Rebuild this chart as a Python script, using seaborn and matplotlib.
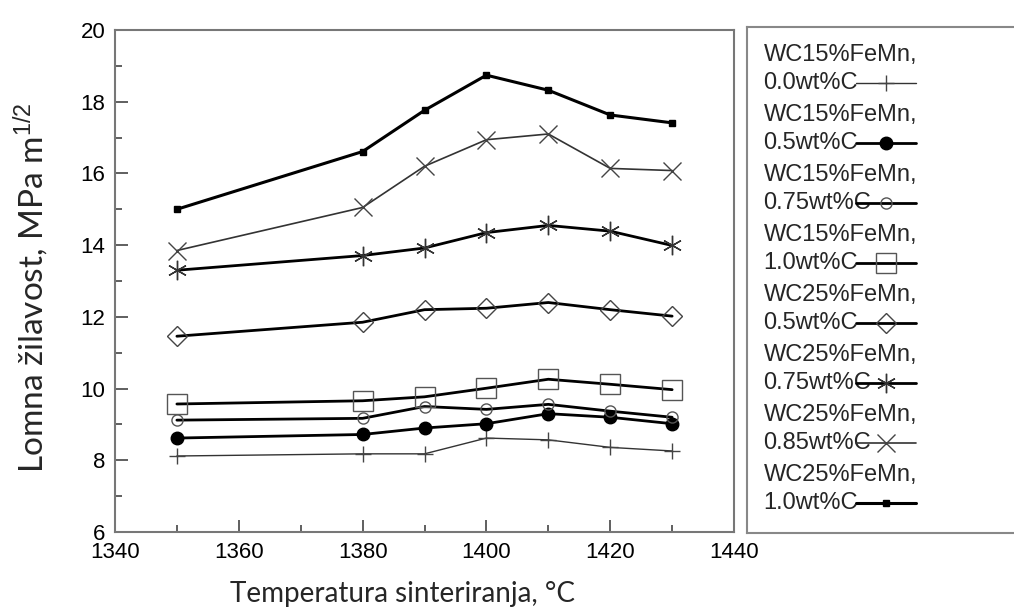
import matplotlib
matplotlib.use("Agg")
import matplotlib.pyplot as plt
from matplotlib.legend_handler import HandlerLine2D
from matplotlib.transforms import Affine2D
from matplotlib.ticker import MultipleLocator
import pandas as pd
import seaborn as sns

# sintering temperature, deg C
temps = [1350, 1380, 1390, 1400, 1410, 1420, 1430]

# fracture toughness, MPa m^1/2
wc15_c00 = [8.12, 8.18, 8.18, 8.62, 8.57, 8.36, 8.26]
wc15_c05 = [8.62, 8.72, 8.9, 9.02, 9.3, 9.2, 9.02]
wc15_c075 = [9.12, 9.17, 9.5, 9.42, 9.56, 9.37, 9.2]
wc15_c10 = [9.57, 9.66, 9.77, 10.01, 10.26, 10.12, 9.97]
wc25_c05 = [11.46, 11.85, 12.2, 12.24, 12.4, 12.2, 12.02]
wc25_c075 = [13.3, 13.71, 13.92, 14.35, 14.55, 14.39, 13.99]
wc25_c085 = [13.85, 15.05, 16.2, 16.94, 17.1, 16.14, 16.08]
wc25_c10 = [15.0, 16.61, 17.76, 18.74, 18.32, 17.63, 17.41]

labels = ["WC15%FeMn,\n0.0wt%C", "WC15%FeMn,\n0.5wt%C", "WC15%FeMn,\n0.75wt%C",
          "WC15%FeMn,\n1.0wt%C", "WC25%FeMn,\n0.5wt%C", "WC25%FeMn,\n0.75wt%C",
          "WC25%FeMn,\n0.85wt%C", "WC25%FeMn,\n1.0wt%C"]
series = [wc15_c00, wc15_c05, wc15_c075, wc15_c10, wc25_c05, wc25_c075, wc25_c085, wc25_c10]

# marker, size, face, edge, line width
styles = [
    dict(marker="+", ms=12, mfc="#444444", mec="#444444", mew=1.0, lw=1.0, color="#333333"),
    dict(marker="o", ms=9, mfc="black", mec="black", mew=1.0, lw=2.0, color="black"),
    dict(marker="o", ms=8, mfc="none", mec="#555555", mew=1.0, lw=2.0, color="black"),
    dict(marker="s", ms=14, mfc="none", mec="#555555", mew=1.0, lw=2.0, color="black"),
    dict(marker="D", ms=10, mfc="none", mec="#444444", mew=1.0, lw=2.0, color="black"),
    dict(marker=(6, 2, 0), ms=14, mfc="#333333", mec="#333333", mew=1.0, lw=2.0, color="black"),
    dict(marker="x", ms=13, mfc="#444444", mec="#444444", mew=1.0, lw=1.2, color="#333333"),
    dict(marker="s", ms=4.5, mfc="black", mec="black", mew=1.0, lw=2.2, color="black"),
]

df = pd.concat([pd.DataFrame({"temp": temps, "kic": vals, "series": lab})
                for lab, vals in zip(labels, series)], ignore_index=True)

sns.set_style("white")
plt.rcParams["font.family"] = ["Liberation Sans", "DejaVu Sans"]
plt.rcParams["mathtext.fontset"] = "custom"
plt.rcParams["mathtext.rm"] = "Liberation Sans"
plt.rcParams["mathtext.it"] = "Liberation Sans:italic"

fig = plt.figure(figsize=(10.14, 6.12), dpi=100)
ax = fig.add_axes([0.1134, 0.1307, 0.6105, 0.8203])

for lab, st in zip(labels, styles):
    sub = df[df["series"] == lab]
    sns.lineplot(data=sub, x="temp", y="kic", ax=ax, label=lab, errorbar=None,
                 marker=st["marker"], markersize=st["ms"], markerfacecolor=st["mfc"],
                 markeredgecolor=st["mec"], markeredgewidth=st["mew"],
                 linewidth=st["lw"], color=st["color"])

handles, labs = ax.get_legend_handles_labels()
if ax.get_legend() is not None:
    ax.get_legend().remove()

ax.set_xlim(1340, 1440)
ax.set_ylim(6, 20)
ax.xaxis.set_major_locator(MultipleLocator(20))
ax.xaxis.set_minor_locator(MultipleLocator(10))
ax.yaxis.set_major_locator(MultipleLocator(2))
ax.yaxis.set_minor_locator(MultipleLocator(1))
ax.tick_params(which="both", direction="in", colors="#444444", labelcolor="black",
               labelsize=16, bottom=True, left=True, top=False, right=False)
ax.tick_params(axis="y", pad=7)
ax.tick_params(axis="x", pad=7)
ax.tick_params(which="major", length=9, width=1.2)
ax.tick_params(which="minor", length=5, width=1.2)
for sp in ax.spines.values():
    sp.set_color("#777777")
    sp.set_linewidth(1.5)

ax.set_xlabel("Temperatura sinteriranja, °C", fontsize=20, family=["Lato", "DejaVu Sans"])
ax.set_ylabel("Lomna žilavost, MPa m$^{1/2}$", fontsize=24, family=["Lato", "DejaVu Sans"])
ax.xaxis.set_label_coords(0.465, -0.097)
ax.yaxis.set_label_coords(-0.104, 0.486)


class ShiftedLine(HandlerLine2D):
    # push the sample down to the second text line and left over the label
    def create_artists(self, legend, orig_handle, xdescent, ydescent, width, height, fontsize, trans):
        arts = super().create_artists(legend, orig_handle, xdescent, ydescent,
                                      width, height, fontsize, trans)
        shift = Affine2D().translate(-47, -10)
        for a in arts:
            a.set_transform(shift + trans)
        return arts


# legend box as its own frame, running off the right edge
lax = fig.add_axes([0.7367, 0.1291, 0.30, 0.8268])
lax.set_xticks([])
lax.set_yticks([])
for sp in lax.spines.values():
    sp.set_color("#888888")
    sp.set_linewidth(1.5)
leg = lax.legend(handles, labs, loc="upper left", bbox_to_anchor=(0.0, 1.0),
                 frameon=False, markerfirst=False, numpoints=1, fontsize=17,
                 handlelength=2.5, handletextpad=0.2, labelspacing=0.42,
                 borderpad=0.7, borderaxespad=0.0,
                 handler_map={h: ShiftedLine() for h in handles})
for t in leg.get_texts():
    t.set_linespacing(1.36)

fig.savefig("out.png", dpi=100)
